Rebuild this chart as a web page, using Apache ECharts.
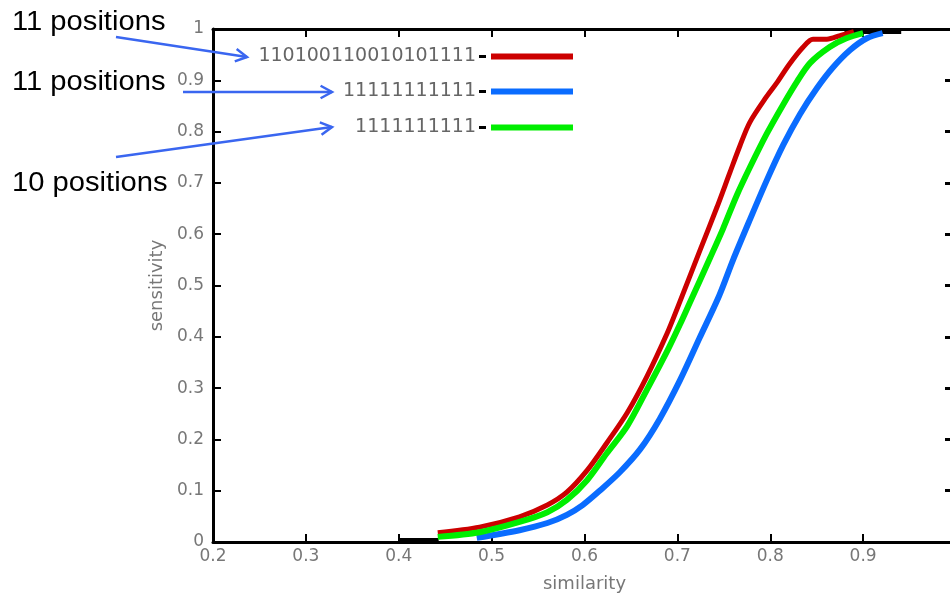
<!DOCTYPE html>
<html>
<head>
<meta charset="utf-8">
<script src="https://cdn.jsdelivr.net/npm/echarts@6/dist/echarts.min.js"></script>
<style>html,body{margin:0;padding:0;background:#fff}#c{width:950px;height:593px}</style>
</head>
<body>
<div id="c"></div>
<script>
// ---- data ----
const seriesNames = ['110100110010101111', '11111111111', '1111111111'];
const annotationTexts = ['11 positions', '11 positions', '10 positions'];

const redX = [0.442, 0.487, 0.530, 0.560, 0.581, 0.603, 0.624, 0.646, 0.667, 0.689, 0.700, 0.724, 0.7425, 0.7565, 0.7673, 0.778, 0.796, 0.807, 0.820, 0.835, 0.846, 0.861, 0.875, 0.890];
const redY = [0.018, 0.029, 0.049, 0.072, 0.097, 0.140, 0.193, 0.252, 0.322, 0.407, 0.456, 0.567, 0.652, 0.720, 0.772, 0.818, 0.868, 0.895, 0.930, 0.964, 0.980, 0.980, 0.987, 0.995];

const blueX = [0.484, 0.530, 0.560, 0.581, 0.598, 0.617, 0.638, 0.660, 0.681, 0.703, 0.724, 0.745, 0.760, 0.778, 0.796, 0.814, 0.832, 0.850, 0.867, 0.886, 0.904, 0.921];
const blueY = [0.008, 0.023, 0.037, 0.053, 0.072, 0.101, 0.136, 0.181, 0.240, 0.316, 0.398, 0.480, 0.550, 0.628, 0.704, 0.774, 0.834, 0.884, 0.924, 0.959, 0.982, 0.992];

const greenX = [0.442, 0.487, 0.530, 0.560, 0.581, 0.603, 0.624, 0.646, 0.667, 0.689, 0.703, 0.713, 0.735, 0.749, 0.764, 0.778, 0.796, 0.814, 0.829, 0.843, 0.864, 0.882, 0.900];
const greenY = [0.010, 0.019, 0.039, 0.058, 0.082, 0.121, 0.173, 0.226, 0.296, 0.372, 0.425, 0.465, 0.553, 0.610, 0.676, 0.730, 0.795, 0.853, 0.898, 0.934, 0.965, 0.982, 0.992];

// black traces of the underlying plot visible at both ends
const baseBottomX = [0.400, 0.443];
const baseBottomY = [0.004, 0.004];
const baseTopX = [0.880, 0.941];
const baseTopY = [0.994, 0.994];

const xMin = 0.2, xMax = 1.0, xStep = 0.1;
const yMin = 0.0, yMax = 1.0, yStep = 0.1;

// ---- helpers ----
const zip = (xs, ys) => xs.map((x, i) => [x, ys[i]]);
const colors = ['#cc0000', '#0a6cff', '#00ee00'];
const labelFont = 'DejaVu Sans';
const gray = '#777';

function arrow(x1, y1, x2, y2) {
  const ang = Math.atan2(y2 - y1, x2 - x1);
  const L = 13, a = 0.5;
  const p1 = [x2 - L * Math.cos(ang - a), y2 - L * Math.sin(ang - a)];
  const p2 = [x2 - L * Math.cos(ang + a), y2 - L * Math.sin(ang + a)];
  const st = { stroke: '#3a66f0', lineWidth: 2.5, fill: null };
  return [
    { type: 'line', shape: { x1, y1, x2, y2 }, style: st, z: 100 },
    { type: 'polyline', shape: { points: [p1, [x2, y2], p2] }, style: st, z: 100 }
  ];
}

function legendFor(i, centerY) {
  return {
    show: true,
    data: [seriesNames[i]],
    right: 377,
    top: centerY - 10,
    padding: 0,
    align: 'right',
    icon: 'rect',
    itemWidth: 82,
    itemHeight: 6,
    selectedMode: false,
    formatter: n => '{t|' + n + '}{d|}',
    textStyle: {
      rich: {
        t: { fontFamily: labelFont, fontSize: 19, color: '#666', lineHeight: 20, padding: [0, 3, 0, 0] },
        d: { width: 7, height: 3, backgroundColor: '#000' }
      }
    }
  };
}

const axisLineStyle = { show: true, onZero: false, lineStyle: { color: '#000', width: 3 } };

function curve(i, xs, ys, w, z) {
  return {
    type: 'line', name: seriesNames[i], data: zip(xs, ys),
    smooth: 0.3, showSymbol: false,
    itemStyle: { color: colors[i] }, lineStyle: { color: colors[i], width: w }, z
  };
}

const option = {
  animation: false,
  backgroundColor: '#fff',
  grid: { left: 213, top: 29, right: -6, bottom: 51, containLabel: false, outerBoundsMode: 'none' },
  legend: [legendFor(0, 57), legendFor(1, 92), legendFor(2, 128)],
  xAxis: [
    {
      type: 'value', min: xMin, max: xMax, interval: xStep, position: 'bottom',
      name: 'similarity', nameLocation: 'middle', nameGap: 33,
      nameTextStyle: { fontFamily: labelFont, fontSize: 18, color: gray },
      axisLine: axisLineStyle,
      axisTick: { show: true, inside: true, length: 8, lineStyle: { color: '#000', width: 2 } },
      axisLabel: { margin: 6, showMaxLabel: false, fontFamily: labelFont, fontSize: 17, color: gray },
      splitLine: { show: false }
    },
    {
      type: 'value', min: xMin, max: xMax, interval: xStep, position: 'top',
      axisLine: axisLineStyle,
      axisTick: { show: true, inside: true, length: 8, lineStyle: { color: '#000', width: 2 } },
      axisLabel: { show: false },
      splitLine: { show: false }
    }
  ],
  yAxis: [
    {
      type: 'value', min: yMin, max: yMax, interval: yStep, position: 'left',
      name: 'sensitivity', nameLocation: 'middle', nameGap: 32, nameRotate: 90,
      nameTextStyle: { fontFamily: labelFont, fontSize: 18, color: gray },
      axisLine: axisLineStyle,
      axisTick: { show: true, inside: true, length: 8, lineStyle: { color: '#000', width: 2 } },
      axisLabel: { margin: 9, fontFamily: labelFont, fontSize: 17, color: gray },
      splitLine: { show: false }
    },
    {
      type: 'value', min: yMin, max: yMax, interval: yStep, position: 'right',
      axisLine: axisLineStyle,
      axisTick: { show: true, inside: true, length: 11, lineStyle: { color: '#000', width: 3 } },
      axisLabel: { show: false },
      splitLine: { show: false }
    }
  ],
  series: [
    { type: 'line', name: '_baseBottom', data: zip(baseBottomX, baseBottomY), showSymbol: false, lineStyle: { color: '#000', width: 4 }, z: 1, silent: true },
    { type: 'line', name: '_baseTop', data: zip(baseTopX, baseTopY), showSymbol: false, lineStyle: { color: '#000', width: 4 }, z: 1, silent: true },
    curve(0, redX, redY, 5, 2),
    curve(1, blueX, blueY, 6, 3),
    curve(2, greenX, greenY, 6, 4)
  ],
  graphic: [
    { type: 'text', left: 12, top: 9, scaleX: 1.08, style: { text: annotationTexts[0], font: '27px "Liberation Sans", Arial, sans-serif', fill: '#000' }, z: 100 },
    { type: 'text', left: 12, top: 69, scaleX: 1.08, style: { text: annotationTexts[1], font: '27px "Liberation Sans", Arial, sans-serif', fill: '#000' }, z: 100 },
    { type: 'text', left: 12, top: 170, scaleX: 1.08, style: { text: annotationTexts[2], font: '27px "Liberation Sans", Arial, sans-serif', fill: '#000' }, z: 100 },
    ...arrow(116, 37, 247, 57),
    ...arrow(183, 92, 332, 92),
    ...arrow(116, 157, 332, 127)
  ]
};

const chart = echarts.init(document.getElementById('c'), null, { renderer: 'canvas' });
chart.setOption(option);
</script>
</body>
</html>
